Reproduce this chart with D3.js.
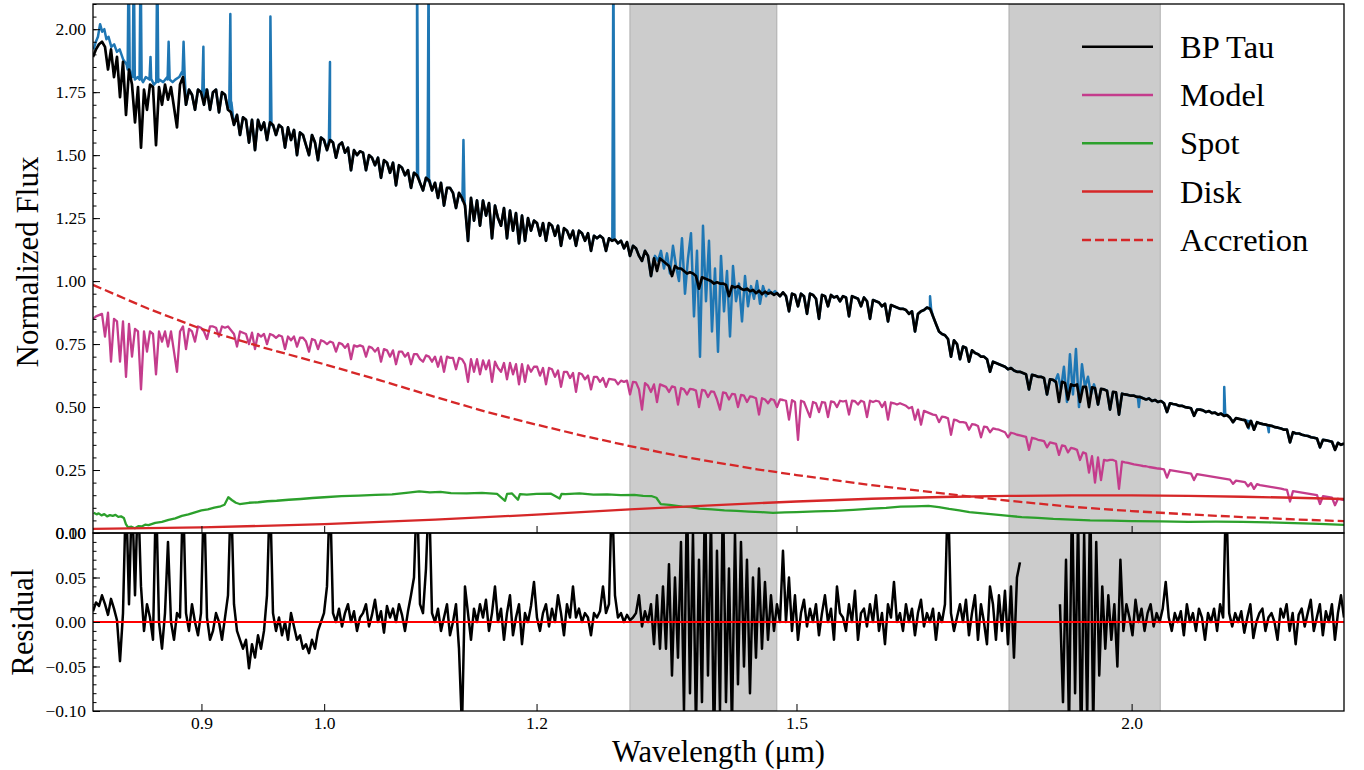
<!DOCTYPE html>
<html>
<head>
<meta charset="utf-8">
<script src="https://cdn.jsdelivr.net/npm/d3@7"></script>
<style>
  body { margin: 0; background: #fff; }
  svg { display: block; }
  text { font-family: "Liberation Serif", "Times New Roman", serif; fill: #000; }
</style>
</head>
<body>
<svg id="chart" width="1364" height="770"></svg>
<script>
// ---------- axes ----------
const waveDomain = [0.82, 2.40];
const fluxDomain = [0, 2.1];
const residualDomain = [-0.1, 0.1];
const waveTicks = [0.9, 1.0, 1.2, 1.5, 2.0];
const fluxTicks = [0, 0.25, 0.5, 0.75, 1.0, 1.25, 1.5, 1.75, 2.0];
const residualTicks = [-0.10, -0.05, 0.00, 0.05, 0.10];
const telluricBands = [[1.30, 1.475], [1.80, 2.05]];
const legendLabels = ["BP Tau", "Model", "Spot", "Disk", "Accretion"];

// ---------- BP Tau, emission lines masked; sampled evenly in log wavelength over waveDomain ----------
const bpTauFlux = [
  1.89,1.92,1.94,1.95,1.93,1.84,1.92,1.81,1.89,1.73,
  1.87,1.66,1.84,1.78,1.63,1.77,1.53,1.76,1.68,1.78,
  1.77,1.54,1.77,1.70,1.78,1.72,1.77,1.69,1.61,1.78,
  1.81,1.70,1.76,1.74,1.68,1.76,1.75,1.70,1.76,1.68,
  1.75,1.76,1.67,1.75,1.74,1.68,1.67,1.62,1.66,1.58,
  1.65,1.64,1.55,1.64,1.52,1.64,1.60,1.63,1.56,1.63,
  1.62,1.58,1.62,1.61,1.53,1.61,1.56,1.60,1.50,1.59,
  1.58,1.54,1.50,1.58,1.55,1.48,1.57,1.56,1.52,1.56,
  1.55,1.49,1.54,1.55,1.51,1.53,1.44,1.52,1.50,1.515,
  1.51,1.44,1.50,1.49,1.46,1.49,1.41,1.48,1.47,1.43,
  1.47,1.38,1.46,1.45,1.42,1.44,1.37,1.43,1.42,1.39,
  1.36,1.41,1.40,1.36,1.39,1.33,1.39,1.30,1.37,1.37,
  1.35,1.29,1.35,1.33,1.30,1.16,1.33,1.24,1.32,1.22,
  1.32,1.26,1.31,1.17,1.30,1.25,1.22,1.29,1.17,1.28,
  1.20,1.27,1.15,1.26,1.16,1.25,1.20,1.24,1.23,1.18,
  1.23,1.16,1.23,1.22,1.18,1.22,1.14,1.21,1.20,1.17,
  1.20,1.14,1.20,1.19,1.16,1.19,1.12,1.18,1.17,1.18,
  1.17,1.12,1.17,1.16,1.165,1.15,1.16,1.13,1.155,1.10,
  1.14,1.13,1.10,1.08,1.12,1.10,1.02,1.09,1.04,1.09,
  1.08,1.07,1.06,1.02,1.06,1.05,1.05,1.04,1.03,1.035,
  1.03,1.02,0.97,1.015,1.01,1.005,1.0,0.99,0.995,0.99,
  0.99,0.985,0.94,0.98,0.975,0.98,0.97,0.965,0.97,0.96,
  0.965,0.952,0.962,0.948,0.958,0.95,0.955,0.945,0.952,0.94,
  0.955,0.94,0.88,0.95,0.945,0.90,0.95,0.94,0.87,0.95,
  0.945,0.93,0.85,0.945,0.94,0.90,0.945,0.935,0.94,0.92,
  0.94,0.935,0.86,0.94,0.935,0.93,0.90,0.935,0.92,0.85,
  0.925,0.92,0.915,0.90,0.91,0.84,0.905,0.90,0.895,0.89,
  0.89,0.885,0.87,0.88,0.80,0.87,0.88,0.885,0.895,0.89,
  0.86,0.83,0.80,0.79,0.785,0.77,0.70,0.765,0.75,0.69,
  0.74,0.735,0.68,0.725,0.715,0.71,0.70,0.70,0.69,0.64,
  0.68,0.675,0.67,0.665,0.66,0.65,0.655,0.645,0.64,0.64,
  0.635,0.63,0.57,0.628,0.625,0.62,0.62,0.615,0.55,0.61,
  0.608,0.60,0.52,0.60,0.595,0.53,0.59,0.585,0.59,0.52,
  0.58,0.58,0.50,0.578,0.575,0.51,0.572,0.57,0.565,0.49,
  0.56,0.558,0.47,0.553,0.55,0.548,0.545,0.545,0.54,0.54,
  0.535,0.53,0.534,0.524,0.528,0.52,0.524,0.515,0.48,0.515,
  0.512,0.51,0.505,0.505,0.50,0.498,0.495,0.465,0.49,0.49,
  0.487,0.48,0.484,0.476,0.478,0.47,0.474,0.465,0.468,0.458,
  0.44,0.456,0.453,0.45,0.448,0.42,0.445,0.41,0.44,0.435,
  0.432,0.43,0.427,0.425,0.42,0.418,0.415,0.41,0.41,0.36,
  0.40,0.395,0.395,0.39,0.387,0.385,0.38,0.378,0.375,0.34,
  0.37,0.368,0.365,0.362,0.33,0.358,0.35,0.355
];

// ---------- observed spectrum: blue end, uncorrected telluric windows, emission lines ----------
const observedBlueEnd = [
  [0.8205,1.92],[0.8220,1.95],[0.8235,1.97],[0.8250,2.02],[0.8265,1.99],[0.8280,2.00],[0.8295,1.96],
  [0.8310,1.97],[0.8330,1.93],[0.8350,1.94],[0.8370,1.91],[0.8390,1.92],[0.8415,1.88],[0.8440,1.86],
  [0.8470,1.82],[0.8500,1.80],[0.8520,1.81],[0.8560,1.79],[0.8580,1.81],[0.8620,1.80],[0.8640,1.78],
  [0.8680,1.80],[0.8710,1.79],[0.8740,1.81],[0.8780,1.79],[0.8800,1.80],[0.8830,1.81],[0.8850,1.83],
  [0.8875,1.78]
];
const telluricRangeA = [1.3284, 1.4726];
const observedTelluricA = [
  1.10,1.08,1.12,1.05,1.11,1.03,1.14,1.06,1.00,1.17,0.95,1.09,1.19,0.86,1.12,0.70,1.22,0.92,1.16,0.80,
  1.05,0.72,1.10,0.88,1.04,0.78,1.06,0.92,0.99,0.84,1.02,0.90,0.98,0.93,1.00,0.91,0.98,0.94,0.965,0.95,0.96
];
const telluricRangeB = [1.8726, 1.9364];
const observedTelluricB = [0.60,0.63,0.57,0.66,0.52,0.71,0.55,0.73,0.50,0.67,0.58,0.62,0.55,0.59];
// [wave, local level, peak]
const observedLines = [
  [0.8455,1.84,2.30],[0.8492,1.81,2.30],[0.8542,1.80,2.30],[0.8615,1.80,1.89],[0.8665,1.79,2.30],
  [0.8750,1.80,1.95],[0.8863,1.82,1.95],[0.9015,1.76,1.93],[0.9226,1.71,2.06],[0.9549,1.62,2.05],
  [1.0050,1.56,1.87],[1.0830,1.42,2.30],[1.0938,1.40,2.30],[1.1270,1.32,1.56],[1.2818,1.165,2.30],
  [1.6822,0.89,0.94],[2.1655,0.468,0.58],
  [2.0125,0.54,0.50],[2.2115,0.445,0.415],[2.2500,0.425,0.40]
];

// ---------- model, same sampling as bpTauFlux ----------
const modelFlux = [
  0.85,0.86,0.865,0.87,0.78,0.875,0.68,0.85,0.84,0.68,
  0.84,0.62,0.83,0.70,0.81,0.80,0.57,0.80,0.72,0.80,
  0.79,0.63,0.80,0.76,0.80,0.74,0.80,0.72,0.64,0.80,
  0.82,0.73,0.81,0.80,0.76,0.82,0.815,0.80,0.77,0.82,
  0.82,0.815,0.78,0.82,0.815,0.82,0.805,0.79,0.74,0.80,
  0.795,0.79,0.75,0.795,0.73,0.79,0.78,0.79,0.75,0.79,
  0.785,0.775,0.785,0.78,0.73,0.78,0.765,0.78,0.74,0.775,
  0.775,0.76,0.72,0.77,0.765,0.73,0.765,0.76,0.75,0.76,
  0.755,0.72,0.755,0.75,0.735,0.75,0.69,0.745,0.74,0.745,
  0.74,0.70,0.74,0.735,0.72,0.735,0.68,0.73,0.725,0.70,
  0.725,0.67,0.72,0.72,0.70,0.715,0.67,0.71,0.71,0.69,
  0.68,0.705,0.70,0.68,0.70,0.66,0.70,0.64,0.70,0.695,
  0.695,0.65,0.695,0.69,0.67,0.60,0.69,0.64,0.69,0.63,
  0.685,0.65,0.685,0.60,0.68,0.655,0.64,0.675,0.61,0.675,
  0.63,0.67,0.59,0.67,0.60,0.665,0.64,0.66,0.66,0.625,
  0.655,0.59,0.655,0.65,0.62,0.645,0.58,0.64,0.64,0.615,
  0.635,0.56,0.635,0.63,0.61,0.625,0.57,0.62,0.62,0.60,
  0.615,0.58,0.612,0.61,0.608,0.59,0.605,0.60,0.605,0.55,
  0.60,0.598,0.57,0.49,0.595,0.585,0.56,0.59,0.52,0.59,
  0.585,0.58,0.56,0.582,0.578,0.51,0.575,0.57,0.55,0.572,
  0.57,0.565,0.50,0.568,0.565,0.54,0.562,0.56,0.53,0.49,
  0.558,0.555,0.53,0.552,0.55,0.50,0.548,0.545,0.52,0.542,
  0.54,0.535,0.47,0.535,0.53,0.515,0.532,0.528,0.50,0.53,
  0.528,0.525,0.45,0.527,0.52,0.37,0.525,0.52,0.49,0.46,
  0.52,0.515,0.48,0.52,0.518,0.46,0.522,0.52,0.50,0.525,
  0.522,0.525,0.47,0.525,0.523,0.51,0.525,0.52,0.46,0.525,
  0.52,0.525,0.522,0.50,0.52,0.45,0.518,0.515,0.51,0.515,
  0.51,0.505,0.495,0.50,0.45,0.49,0.43,0.485,0.48,0.475,
  0.47,0.468,0.44,0.462,0.46,0.455,0.39,0.45,0.447,0.44,
  0.44,0.437,0.41,0.432,0.43,0.425,0.38,0.422,0.42,0.40,
  0.415,0.412,0.41,0.405,0.40,0.38,0.398,0.395,0.39,0.388,
  0.385,0.382,0.33,0.378,0.375,0.37,0.368,0.365,0.34,0.36,
  0.357,0.354,0.31,0.348,0.345,0.32,0.338,0.335,0.33,0.29,
  0.32,0.315,0.24,0.305,0.20,0.30,0.21,0.29,0.287,0.29,
  0.29,0.285,0.175,0.283,0.28,0.278,0.275,0.272,0.27,0.268,
  0.266,0.265,0.262,0.26,0.258,0.256,0.255,0.253,0.22,0.25,
  0.248,0.246,0.244,0.242,0.24,0.238,0.236,0.21,0.234,0.232,
  0.23,0.228,0.226,0.224,0.222,0.22,0.218,0.216,0.214,0.212,
  0.195,0.208,0.206,0.204,0.202,0.185,0.198,0.175,0.194,0.19,
  0.188,0.186,0.184,0.182,0.18,0.178,0.176,0.173,0.171,0.125,
  0.166,0.164,0.162,0.16,0.158,0.156,0.154,0.152,0.15,0.115,
  0.146,0.144,0.142,0.14,0.11,0.136,0.133,0.13
];

// ---------- spot, disk and accretion components [wave, flux] ----------
const spotFlux = [
  [0.8205,0.08],[0.8225,0.074],[0.8240,0.078],[0.8260,0.07],[0.8280,0.075],[0.8300,0.066],[0.8320,0.071],
  [0.8340,0.068],[0.8360,0.072],[0.8380,0.064],[0.8400,0.066],[0.8420,0.06],[0.8435,0.035],[0.8450,0.022],
  [0.8475,0.025],[0.8500,0.019],[0.8525,0.027],[0.8550,0.026],[0.8575,0.033],[0.8600,0.031],[0.8650,0.04],
  [0.8700,0.044],[0.8750,0.052],[0.8800,0.058],[0.8850,0.068],[0.8900,0.074],[0.8950,0.082],[0.9000,0.09],
  [0.9050,0.094],[0.9100,0.101],[0.9150,0.106],[0.9180,0.112],[0.9210,0.142],[0.9240,0.13],[0.9270,0.12],
  [0.9300,0.115],[0.9375,0.12],[0.9450,0.122],[0.9525,0.126],[0.9600,0.128],[0.9700,0.132],[0.9800,0.135],
  [0.9900,0.139],[1.0000,0.142],[1.0150,0.146],[1.0300,0.148],[1.0450,0.151],[1.0600,0.153],[1.0750,0.16],
  [1.0850,0.165],[1.0950,0.161],[1.1050,0.163],[1.1150,0.158],[1.1300,0.157],[1.1450,0.159],[1.1600,0.155],
  [1.1680,0.128],[1.1700,0.155],[1.1750,0.157],[1.1810,0.132],[1.1830,0.154],[1.1900,0.152],[1.2000,0.155],
  [1.2150,0.156],[1.2240,0.137],[1.2260,0.155],[1.2300,0.154],[1.2450,0.157],[1.2600,0.152],[1.2750,0.153],
  [1.2900,0.15],[1.3050,0.151],[1.3150,0.147],[1.3250,0.146],[1.3300,0.14],[1.3350,0.115],[1.3450,0.112],
  [1.3600,0.105],[1.3700,0.103],[1.3800,0.097],[1.3950,0.094],[1.4100,0.09],[1.4250,0.088],[1.4400,0.085],
  [1.4550,0.083],[1.4700,0.08],[1.4850,0.082],[1.5000,0.083],[1.5250,0.086],[1.5500,0.088],[1.5750,0.092],
  [1.6000,0.097],[1.6200,0.1],[1.6400,0.105],[1.6600,0.106],[1.6800,0.108],[1.6950,0.103],[1.7100,0.096],
  [1.7250,0.09],[1.7400,0.083],[1.7600,0.078],[1.7800,0.073],[1.8000,0.068],[1.8200,0.063],[1.8450,0.06],
  [1.8700,0.056],[1.9000,0.053],[1.9300,0.05],[1.9650,0.049],[2.0000,0.047],[2.0500,0.046],[2.1000,0.044],
  [2.1500,0.045],[2.2000,0.044],[2.2500,0.042],[2.3000,0.039],[2.3500,0.036],[2.4000,0.032]
];
const diskFlux = [
  [0.82,0.016],[0.90,0.022],[1.00,0.035],[1.10,0.053],[1.20,0.073],[1.30,0.094],[1.40,0.111],[1.50,0.125],
  [1.60,0.136],[1.70,0.143],[1.80,0.147],[1.90,0.149],[2.00,0.149],[2.10,0.147],[2.20,0.144],[2.30,0.14],
  [2.40,0.135]
];
const accretionFlux = [
  [0.82,0.985],[0.86,0.89],[0.90,0.81],[0.95,0.735],[1.00,0.67],[1.05,0.605],[1.10,0.54],[1.15,0.48],
  [1.20,0.43],[1.25,0.385],[1.30,0.345],[1.35,0.31],[1.40,0.28],[1.45,0.253],[1.50,0.23],[1.60,0.19],
  [1.70,0.157],[1.80,0.128],[1.90,0.104],[2.00,0.087],[2.10,0.074],[2.20,0.063],[2.30,0.054],[2.40,0.047]
];

// ---------- residuals (data - model), evenly sampled in log wavelength ----------
const residualRangeA = [0.82, 1.8172];
const residualA = [
  0.012,0.022,0.018,0.03,0.02,0.008,0.026,0.015,0.002,-0.044,
  0.01,0.15,0.02,0.15,0.03,0.15,0.04,-0.01,0.02,0.005,
  -0.02,0.15,0.0,-0.03,0.01,0.09,0.0,-0.02,0.01,0.005,
  0.15,0.01,-0.01,0.02,0.0,-0.015,0.01,0.15,0.005,-0.02,
  -0.01,0.01,0.0,-0.02,0.005,0.03,0.15,0.02,-0.01,-0.02,
  -0.03,-0.02,-0.052,-0.025,-0.04,-0.015,-0.03,-0.01,0.03,0.15,
  0.01,-0.01,0.005,-0.015,0.0,-0.02,0.01,-0.005,-0.02,-0.015,
  -0.03,-0.025,-0.035,-0.02,-0.03,-0.01,0.0,0.01,0.04,0.15,
  0.01,0.0,0.015,-0.005,0.01,0.02,0.0,0.012,-0.01,0.005,
  0.01,0.02,-0.005,0.008,0.025,0.0,0.012,-0.012,0.018,0.005,
  0.015,0.0,0.02,0.008,-0.01,0.012,0.03,0.05,0.15,0.02,
  0.01,0.06,0.15,0.01,0.0,0.015,-0.01,0.005,0.02,-0.015,
  0.0,0.02,-0.03,-0.12,0.04,0.01,-0.02,0.015,0.0,0.02,
  0.005,0.025,-0.01,0.01,0.04,0.0,0.015,-0.02,0.01,0.03,
  -0.015,0.005,0.02,-0.025,0.01,0.0,0.018,0.045,0.005,-0.01,
  0.01,0.02,-0.005,0.015,0.0,0.03,0.01,-0.015,0.02,0.005,
  0.04,0.005,0.015,0.0,0.01,0.005,-0.015,0.01,0.005,0.012,
  0.04,0.01,0.02,0.15,0.03,0.005,0.01,0.0,0.008,0.002,
  0.005,0.01,0.03,-0.005,0.012,0.0,0.02,-0.025,0.03,-0.03,
  0.04,-0.03,0.065,-0.06,0.05,-0.04,0.09,-0.1,0.15,-0.08,
  0.1,-0.12,0.07,-0.09,0.15,-0.06,0.12,-0.15,0.08,-0.1,
  0.15,-0.09,0.06,-0.12,0.1,-0.07,0.09,-0.05,0.07,-0.08,
  0.05,-0.04,0.06,-0.03,0.045,-0.02,0.03,-0.01,0.02,0.0,
  0.08,0.0,0.05,-0.01,0.03,-0.02,0.01,0.025,-0.005,0.015,
  0.0,0.02,-0.015,0.01,0.03,0.0,0.015,-0.02,0.04,0.01,
  0.005,-0.01,0.02,0.0,0.035,-0.02,0.01,0.015,-0.005,0.02,
  0.0,0.03,-0.01,0.01,-0.025,0.02,0.005,0.045,0.0,0.01,
  -0.01,0.02,0.0,0.015,-0.015,0.01,0.025,-0.005,0.01,0.0,
  0.015,-0.02,0.01,0.0,0.02,0.15,0.01,-0.01,0.005,0.02,
  0.0,0.025,-0.015,0.01,0.03,-0.02,0.02,0.0,-0.025,0.04,
  0.02,-0.02,0.03,-0.01,0.035,-0.025,0.04,-0.04,0.05,0.067
];
const residualRangeB = [1.8807, 2.40];
const residualB = [
  0.02,-0.09,0.07,-0.12,0.15,-0.08,0.12,-0.15,0.1,-0.11,
  0.15,-0.12,0.09,-0.06,0.04,-0.03,0.03,-0.02,0.02,-0.05,
  0.07,-0.01,0.02,0.005,-0.015,0.025,0.0,0.015,-0.01,0.01,
  0.02,-0.005,0.01,0.0,0.015,0.045,0.005,-0.01,0.01,0.0,
  0.012,-0.015,0.02,0.0,0.01,-0.01,0.015,0.005,-0.02,0.01,
  0.0,0.015,-0.01,0.02,0.005,0.15,0.01,-0.005,0.01,0.0,
  0.012,-0.012,0.005,0.02,-0.018,0.0,0.01,0.015,-0.01,0.005,
  0.01,0.0,-0.02,0.015,0.005,0.02,-0.01,0.01,-0.025,0.008,
  0.015,-0.005,0.01,0.025,-0.01,0.005,0.02,-0.015,0.012,0.0,
  0.02,-0.02,0.01,0.03,0.005
];

// ---------- layout ----------
const W = 1364, H = 770;
const left = 93, right = 1344;
const topY = 4, splitY = 533, bottomY = 711;
const colors = { observed: "#1f77b4", bpTau: "#000000", model: "#c43c8c", spot: "#2ca02c", disk: "#d62728", zero: "#ff0000" };
const lineHalfWidth = 0.0009;

const svg = d3.select("#chart");
svg.append("rect").attr("width", W).attr("height", H).attr("fill", "#fff");

const x = d3.scaleLog().domain(waveDomain).range([left, right]);
const yFlux = d3.scaleLinear().domain(fluxDomain).range([splitY, topY]);
const yRes = d3.scaleLinear().domain(residualDomain).range([bottomY, splitY]);

// values sampled evenly in log wavelength over a range -> [wave, value]
function spread([w0, w1], values) {
  const t = d3.scaleLinear().domain([0, values.length - 1]).range([Math.log(w0), Math.log(w1)]);
  return values.map((v, i) => [Math.exp(t(i)), v]);
}
// narrow line profiles [wave, level, peak] -> three points each
function lineProfiles(lines) {
  return lines.flatMap(([w, base, peak]) =>
    [[w * (1 - lineHalfWidth), base], [w, peak], [w * (1 + lineHalfWidth), base]]);
}
const inside = (w, r) => w >= r[0] && w <= r[1];

const defs = svg.append("defs");
defs.append("clipPath").attr("id", "clipTop").append("rect")
  .attr("x", left).attr("y", topY).attr("width", right - left).attr("height", splitY - topY);
defs.append("clipPath").attr("id", "clipRes").append("rect")
  .attr("x", left).attr("y", splitY).attr("width", right - left).attr("height", bottomY - splitY);

// shaded telluric windows in both panels
[[yFlux, "clipTop"], [yRes, "clipRes"]].forEach(([ys, clip]) => {
  const r = ys.range();
  svg.append("g").attr("clip-path", `url(#${clip})`).selectAll("rect").data(telluricBands).join("rect")
    .attr("x", d => x(d[0])).attr("width", d => x(d[1]) - x(d[0]))
    .attr("y", Math.min(r[0], r[1])).attr("height", Math.abs(r[0] - r[1]))
    .attr("fill", "#808080").attr("fill-opacity", 0.4)
    .attr("stroke", "#808080").attr("stroke-opacity", 0.4).attr("stroke-width", 1.2);
});

const fluxLine = d3.line().x(d => x(d[0])).y(d => yFlux(d[1]));
const resLine = d3.line().x(d => x(d[0])).y(d => yRes(d[1]));

const topG = svg.append("g").attr("clip-path", "url(#clipTop)")
  .attr("fill", "none").attr("stroke-linejoin", "round");

const bpTau = spread(waveDomain, bpTauFlux);
const blueEndLimit = observedBlueEnd[observedBlueEnd.length - 1][0];
const observed = observedBlueEnd
  .concat(bpTau.filter(d => d[0] > blueEndLimit && !inside(d[0], telluricRangeA) && !inside(d[0], telluricRangeB)))
  .concat(spread(telluricRangeA, observedTelluricA), spread(telluricRangeB, observedTelluricB))
  .concat(lineProfiles(observedLines))
  .sort((a, b) => a[0] - b[0]);

topG.append("path").attr("d", fluxLine(observed)).attr("stroke", colors.observed).attr("stroke-width", 2.5);
topG.append("path").attr("d", fluxLine(bpTau)).attr("stroke", colors.bpTau).attr("stroke-width", 2.7);
topG.append("path").attr("d", fluxLine(spread(waveDomain, modelFlux))).attr("stroke", colors.model).attr("stroke-width", 2.3);
topG.append("path").attr("d", fluxLine(spotFlux)).attr("stroke", colors.spot).attr("stroke-width", 2.3);
topG.append("path").attr("d", fluxLine(diskFlux)).attr("stroke", colors.disk).attr("stroke-width", 2.3);
topG.append("path").attr("d", fluxLine(accretionFlux)).attr("stroke", colors.disk).attr("stroke-width", 2.3)
  .attr("stroke-dasharray", "9,4");

const resG = svg.append("g").attr("clip-path", "url(#clipRes)")
  .attr("fill", "none").attr("stroke-linejoin", "round");
[spread(residualRangeA, residualA), spread(residualRangeB, residualB)].forEach(seg => {
  resG.append("path").attr("d", resLine(seg)).attr("stroke", "#000").attr("stroke-width", 2.5);
});
resG.append("path").attr("d", resLine([[waveDomain[0], 0], [waveDomain[1], 0]]))
  .attr("stroke", colors.zero).attr("stroke-width", 2);

// ---------- axes ----------
function styleAxis(g) {
  g.select(".domain").remove();
  g.selectAll(".tick line").attr("stroke", "#000").attr("stroke-width", 1);
  g.selectAll(".tick text").attr("font-family", '"Liberation Serif", "Times New Roman", serif')
    .attr("font-size", 17.5).attr("fill", "#000");
}
const fluxMinor = d3.range(0, 2.1001, 0.05);
const resMinor = d3.range(-0.1, 0.1001, 0.01);

svg.append("g").attr("transform", `translate(${left},0)`)
  .call(d3.axisLeft(yFlux).tickValues(fluxMinor).tickSize(-3.5).tickFormat("")).call(styleAxis);
svg.append("g").attr("transform", `translate(${left},0)`)
  .call(d3.axisLeft(yFlux).tickValues(fluxTicks).tickSize(-7).tickPadding(7).tickFormat(d3.format(".2f"))).call(styleAxis);
svg.append("g").attr("transform", `translate(${left},0)`)
  .call(d3.axisLeft(yRes).tickValues(resMinor).tickSize(-3.5).tickFormat("")).call(styleAxis);
svg.append("g").attr("transform", `translate(${left},0)`)
  .call(d3.axisLeft(yRes).tickValues(residualTicks).tickSize(-7).tickPadding(7).tickFormat(d3.format(".2f"))).call(styleAxis);
svg.append("g").attr("transform", `translate(0,${splitY})`)
  .call(d3.axisBottom(x).tickValues(waveTicks).tickSize(-7).tickFormat("")).call(styleAxis);
svg.append("g").attr("transform", `translate(0,${bottomY})`)
  .call(d3.axisBottom(x).tickValues(waveTicks).tickSize(-7).tickPadding(6).tickFormat(d3.format(".1f"))).call(styleAxis);

// panel frames
[[topY, splitY], [splitY, bottomY]].forEach(([a, b]) => {
  svg.append("rect").attr("x", left).attr("y", a).attr("width", right - left).attr("height", b - a)
    .attr("fill", "none").attr("stroke", "#000").attr("stroke-width", 1.3);
});

// axis titles
svg.append("text").attr("x", (left + right) / 2).attr("y", 762).attr("text-anchor", "middle")
  .attr("font-size", 30.5).text("Wavelength (μm)");
svg.append("text").attr("transform", `translate(38,262) rotate(-90)`)
  .attr("text-anchor", "middle").attr("font-size", 31).text("Normalized Flux");
svg.append("text").attr("transform", `translate(33,${(splitY + bottomY) / 2}) rotate(-90)`)
  .attr("text-anchor", "middle").attr("font-size", 30.5).text("Residual");

// legend
const legendStyles = [
  { color: colors.bpTau, dash: null },
  { color: colors.model, dash: null },
  { color: colors.spot, dash: null },
  { color: colors.disk, dash: null },
  { color: colors.disk, dash: "9,4" }
];
const legend = svg.append("g");
legendLabels.forEach((label, i) => {
  const yy = 46.7 + i * 48.3;
  legend.append("line").attr("x1", 1082).attr("x2", 1153).attr("y1", yy).attr("y2", yy)
    .attr("stroke", legendStyles[i].color).attr("stroke-width", 2.5)
    .attr("stroke-dasharray", legendStyles[i].dash);
  legend.append("text").attr("x", 1180).attr("y", yy + 11).attr("font-size", 32.5).text(label);
});
</script>
</body>
</html>
